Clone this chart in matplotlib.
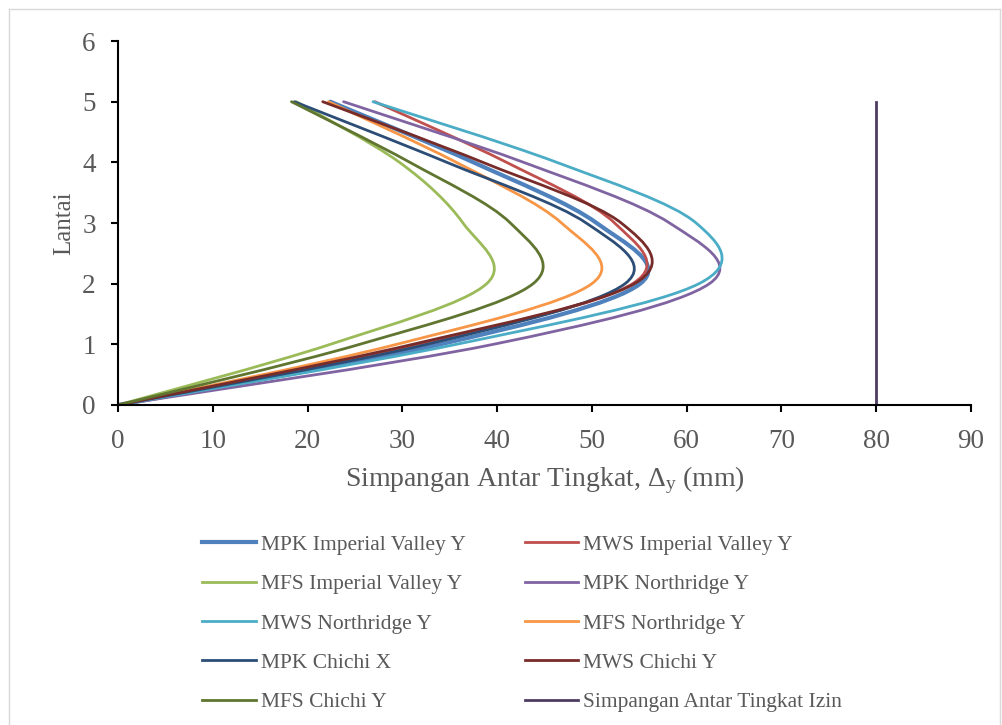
import matplotlib
matplotlib.use("Agg")
import matplotlib.pyplot as plt
from matplotlib.path import Path
from matplotlib.patches import PathPatch
from matplotlib.lines import Line2D

plt.rcParams['font.family'] = ['Liberation Serif', 'DejaVu Serif']
plt.rcParams['mathtext.fontset'] = 'custom'
plt.rcParams['mathtext.rm'] = 'Liberation Serif'
plt.rcParams['mathtext.it'] = 'Liberation Serif:italic'

# lantai (floor) and drift per floor for every record
lantai = [0, 1, 2, 3, 4, 5]

mpk_imperial_y = [0, 34.0, 55.1, 50.5, 37.5, 22.4]
mws_imperial_y = [0, 31.8, 54.3, 52.4, 41.0, 27.1]
mfs_imperial_y = [0, 22.4, 38.9, 36.4, 29.7, 18.8]
mpk_northridge_y = [0, 39.6, 62.4, 58.2, 42.8, 23.8]
mws_northridge_y = [0, 35.7, 61.3, 61.0, 46.3, 26.9]
mfs_northridge_y = [0, 29.4, 50.0, 46.8, 35.7, 22.2]
mpk_chichi_x = [0, 32.6, 53.5, 49.4, 34.7, 18.6]
mws_chichi_y = [0, 31.1, 54.5, 53.1, 38.5, 21.6]
mfs_chichi_y = [0, 25.5, 43.8, 41.4, 30.8, 18.3]

izin_x = [80, 80]
izin_y = [0, 5]

series = [
    ('MPK Imperial Valley Y', mpk_imperial_y, '#4F81BD', 3.0),
    ('MWS Imperial Valley Y', mws_imperial_y, '#C0504D', 2.0),
    ('MFS Imperial Valley Y', mfs_imperial_y, '#9BBB59', 2.0),
    ('MPK Northridge Y', mpk_northridge_y, '#8064A2', 2.0),
    ('MWS Northridge Y', mws_northridge_y, '#4BACC6', 2.0),
    ('MFS Northridge Y', mfs_northridge_y, '#F79646', 2.0),
    ('MPK Chichi X', mpk_chichi_x, '#2C4D75', 2.0),
    ('MWS Chichi Y', mws_chichi_y, '#772C2A', 2.0),
    ('MFS Chichi Y', mfs_chichi_y, '#5F7530', 2.0),
]


def smooth_path(xs, ys):
    # bezier like the smoothed line of a spreadsheet chart
    pts = list(zip(xs, ys))
    n = len(pts)
    verts = [pts[0]]
    codes = [Path.MOVETO]
    for i in range(n - 1):
        p0 = pts[i - 1] if i > 0 else pts[i]
        p1 = pts[i]
        p2 = pts[i + 1]
        p3 = pts[i + 2] if i + 2 < n else pts[i + 1]
        c1 = (p1[0] + (p2[0] - p0[0]) / 6, p1[1] + (p2[1] - p0[1]) / 6)
        c2 = (p2[0] - (p3[0] - p1[0]) / 6, p2[1] - (p3[1] - p1[1]) / 6)
        verts += [c1, c2, p2]
        codes += [Path.CURVE4, Path.CURVE4, Path.CURVE4]
    return Path(verts, codes)


fig = plt.figure(figsize=(10.02, 7.25), dpi=100)
ax = fig.add_axes([0.1178, 0.4414, 0.8512, 0.502])

handles = []
for name, vals, color, lw in series:
    patch = PathPatch(smooth_path(vals, lantai), facecolor='none', edgecolor=color,
                      linewidth=lw, capstyle='round', joinstyle='round')
    ax.add_patch(patch)
    handles.append(Line2D([], [], color=color, linewidth=lw, label=name))

line_izin, = ax.plot(izin_x, izin_y, color='#4D3B62', linewidth=2.0,
                     label='Simpangan Antar Tingkat Izin')
handles.append(line_izin)

ax.set_xlim(0, 90)
ax.set_ylim(0, 6)
ax.set_xticks(range(0, 91, 10))
ax.set_yticks(range(0, 7))
for side in ['top', 'right']:
    ax.spines[side].set_visible(False)
for side in ['left', 'bottom']:
    ax.spines[side].set_linewidth(1.5)
ax.tick_params(direction='out', length=5, width=1.5, labelsize=19.5,
               labelcolor='#595959')
ax.tick_params(axis='x', pad=12)
ax.tick_params(axis='y', pad=11)

ax.set_xlabel(r'Simpangan Antar Tingkat, $\Delta_{\rm y}$ (mm)', fontsize=20,
              color='#595959', labelpad=8)
ax.set_ylabel('Lantai', fontsize=18, color='#595959', labelpad=5)

# legend in row order like the original
order = [0, 2, 4, 6, 8, 1, 3, 5, 7, 9]
leg = fig.legend([handles[i] for i in order], [handles[i].get_label() for i in order],
                 ncol=2, loc='center', bbox_to_anchor=(0.521, 0.140), frameon=False,
                 fontsize=15.5, labelspacing=0.9, handlelength=2.5,
                 handletextpad=0.2, columnspacing=2.75)
for t in leg.get_texts():
    t.set_color('#595959')

# chart area border
fig.add_artist(Line2D([0.009, 0.009], [0, 0.987], color='#D9D9D9', linewidth=1.0))
fig.add_artist(Line2D([0.009, 0.998], [0.987, 0.987], color='#D9D9D9', linewidth=1.0))
fig.add_artist(Line2D([0.998, 0.998], [0, 0.987], color='#D9D9D9', linewidth=1.0))

fig.savefig('out.png', dpi=100)
